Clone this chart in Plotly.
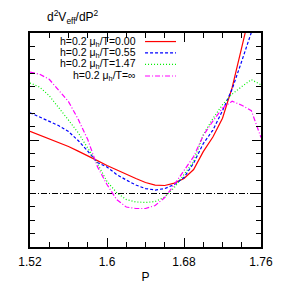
import plotly.graph_objects as go

P = [1.52, 1.53, 1.54, 1.55, 1.56, 1.57, 1.58, 1.59, 1.60, 1.61, 1.62, 1.63, 1.64,
     1.65, 1.66, 1.67, 1.68, 1.69, 1.70, 1.71, 1.72, 1.73, 1.74, 1.75, 1.76]

red = [4.65, 4.37, 4.10, 3.78, 3.51, 3.17, 2.84, 2.46, 2.09, 1.75, 1.42, 1.12, 0.82,
       0.63, 0.60, 0.78, 1.12, 1.79, 3.13, 4.22, 5.63, 7.91, 10.93, 13.9, 17.0]
blue = [6.04, 5.71, 5.41, 5.07, 4.63, 3.96, 3.17, 2.31, 1.98, 1.42, 1.01, 0.63, 0.37,
        0.26, 0.37, 0.67, 1.19, 2.28, 3.73, 4.74, 6.19, 7.80, 9.90, 12.09, 14.2]
green = [8.26, 7.96, 7.31, 6.42, 5.49, 4.55, 3.43, 2.24, 0.90, 0.07, -0.45, -0.63, -0.67,
         -0.60, -0.26, 0.45, 1.42, 2.39, 4.40, 5.60, 6.64, 7.43, 7.99, 8.51, 8.13]
magenta = [9.08, 8.92, 8.54, 7.69, 6.87, 5.56, 4.03, 2.01, 0.67, -0.45, -1.01, -1.12, -1.12,
           -0.90, -0.30, 0.67, 1.72, 2.76, 4.33, 5.41, 6.38, 6.90, 6.60, 6.19, 4.18]

labels = ["h=0.2 μ<sub>h</sub>/T=0.00", "h=0.2 μ<sub>h</sub>/T=0.55",
          "h=0.2 μ<sub>h</sub>/T=1.47", "h=0.2 μ<sub>h</sub>/T=∞"]
colors = ["#ff0000", "#0000ff", "#00ee00", "#ff00ff"]
dashes = ["solid", "3px,2px", "1px,2px", "5px,2px,1px,2px"]
series = [red, blue, green, magenta]

xtick_vals = [1.52, 1.60, 1.68, 1.76]
xtick_text = ["1.52", "1.6", "1.68", "1.76"]

fig = go.Figure()
fig.add_trace(go.Scatter(x=[P[0], P[-1]], y=[0, 0], mode="lines",
                         line=dict(color="black", width=1, dash="6px,2px,1px,2px"),
                         showlegend=False))
for ys, c, d in zip(series, colors, dashes):
    fig.add_trace(go.Scatter(x=P, y=ys, mode="lines",
                             line=dict(color=c, width=1.2, dash=d), showlegend=False))

font = dict(family="Liberation Sans, Arial, sans-serif", size=12, color="black")
lfont = dict(family="Liberation Sans, Arial, sans-serif", size=10.5, color="black")

legend_y = [0.960, 0.907, 0.853, 0.799]
for lab, c, d, ly in zip(labels, colors, dashes, legend_y):
    fig.add_annotation(x=0.4675, y=ly, xref="paper", yref="paper", text=lab,
                       showarrow=False, xanchor="right", yanchor="middle", font=lfont)
    fig.add_shape(type="line", xref="paper", yref="paper", x0=0.498, x1=0.632,
                  y0=ly, y1=ly, line=dict(color=c, width=1.2, dash=d))

fig.add_annotation(x=0.186, y=1.075, xref="paper", yref="paper",
                   text="d<sup>2</sup>V<sub>eff</sub>/dP<sup>2</sup>",
                   showarrow=False, xanchor="center", yanchor="middle", font=font)

fig.update_xaxes(range=[1.52, 1.76], tickvals=xtick_vals, ticktext=xtick_text,
                 ticks="inside", ticklen=9, tickwidth=1, tickcolor="black",
                 ticklabelstandoff=3,
                 minor=dict(dtick=0.02, tick0=1.52, ticks="inside", ticklen=5,
                            tickcolor="black", showgrid=False),
                 showline=True, linecolor="black", linewidth=1.5, mirror="ticks",
                 showgrid=False, zeroline=False, tickfont=font,
                 title=dict(text="P", font=font, standoff=5))
fig.update_yaxes(range=[-4, 12], tick0=-4, dtick=8, showticklabels=False,
                 ticks="inside", ticklen=9, tickwidth=1, tickcolor="black",
                 minor=dict(dtick=1, tick0=-4, ticks="inside", ticklen=5,
                            tickcolor="black", showgrid=False),
                 showline=True, linecolor="black", linewidth=1.5, mirror="ticks",
                 showgrid=False, zeroline=False)

# page body has an 8px margin, so the figure is 276x276 with shifted margins
fig.update_layout(width=276, height=276, autosize=False,
                  margin=dict(l=22, r=23, t=25, b=37, autoexpand=False),
                  plot_bgcolor="white", paper_bgcolor="white", showlegend=False,
                  font=font)
fig.write_html("out.html")
